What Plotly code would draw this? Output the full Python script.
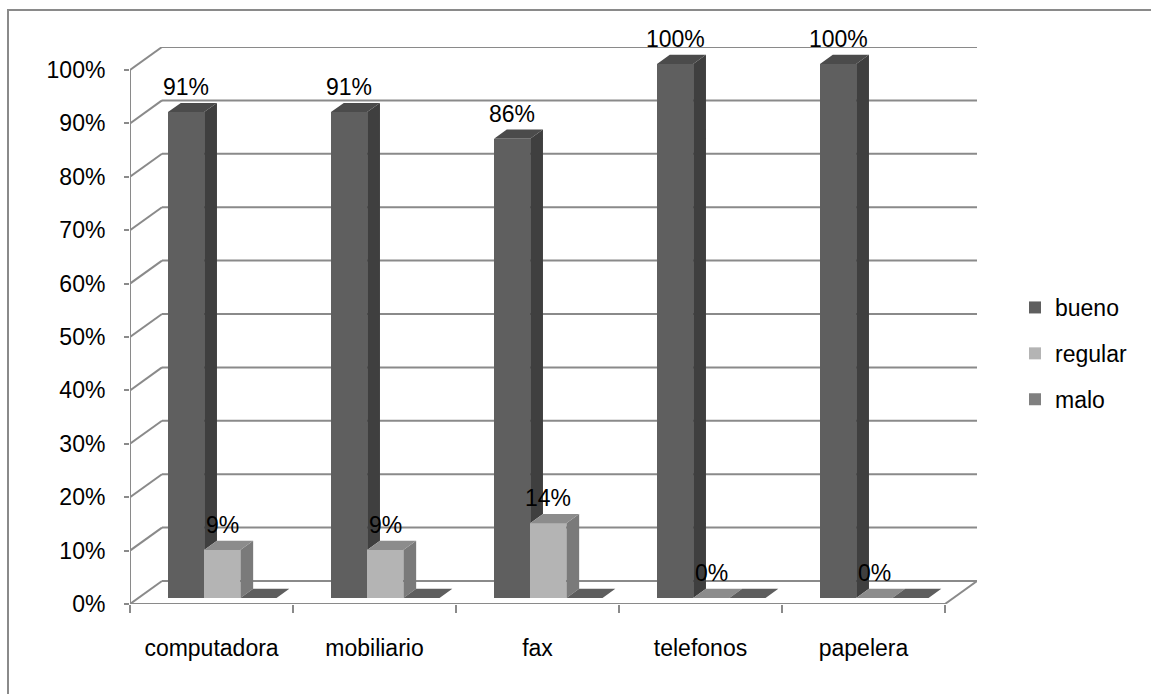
import plotly.graph_objects as go

# ---------------- data ----------------
categories = ["computadora", "mobiliario", "fax", "telefonos", "papelera"]
bueno = [91, 91, 86, 100, 100]
regular = [9, 9, 14, 0, 0]
malo = [0, 0, 0, 0, 0]
series_names = ["bueno", "regular", "malo"]
y_ticks = [0, 10, 20, 30, 40, 50, 60, 70, 80, 90, 100]
show_labels = [True, True, False]

# ---------------- style / geometry ----------------
W, H = 1151, 694
PL, PR, PT, PB = 130, 977, 47, 604          # plot area in pixels
DX = 32 / 163                               # depth offset (category units)
DY = 23 / 5.34                              # depth offset (percent units)
BW = 0.222                                  # bar width (category units)
X0 = 0.182                                  # first bar start inside category
D0, DD = 0.26, 0.40                         # bar depth start / thickness (fraction of depth)
GRID = "#8a8a8a"
FONT = "Liberation Sans, Arial, sans-serif"
FS = 23

front_col = ["#5f5f5f", "#b4b4b4", "#808080"]
side_col = ["#3f3f3f", "#7a7a7a", "#5a5a5a"]
top_col = ["#4b4b4b", "#8c8c8c", "#5e5e5e"]

values = [bueno, regular, malo]
n = len(categories)
base = D0 * DY

fig = go.Figure()

# front faces (bars)
for k, name in enumerate(series_names):
    xs = [i + X0 + (k + 0.5) * BW + D0 * DX for i in range(n)]
    fig.add_trace(go.Bar(
        x=xs, y=values[k], base=[base] * n, width=BW, name=name,
        marker=dict(color=front_col[k], line=dict(width=0)),
        legendgroup=name, hoverinfo="skip",
    ))

# side and top faces
for k, name in enumerate(series_names):
    sx, sy, tx, ty = [], [], [], []
    for i in range(n):
        v = values[k][i]
        xl = i + X0 + k * BW + D0 * DX
        xr = xl + BW
        vb = v + base
        low = base + (values[k + 1][i] if k + 1 < len(values) else 0)
        ddx, ddy = DD * DX, DD * DY
        if vb > low:
            sx += [xr, xr, xr + ddx, xr + ddx, None]
            sy += [low, vb, vb + ddy, low + ddy, None]
        tx += [xl, xr, xr + ddx, xl + ddx, None]
        ty += [vb, vb, vb + ddy, vb + ddy, None]
    fig.add_trace(go.Scatter(x=sx, y=sy, mode="lines", fill="toself",
                             fillcolor=side_col[k], line=dict(width=0),
                             showlegend=False, hoverinfo="skip"))
    fig.add_trace(go.Scatter(x=tx, y=ty, mode="lines", fill="toself",
                             fillcolor=top_col[k], line=dict(width=0),
                             showlegend=False, hoverinfo="skip"))

# data labels
for k, name in enumerate(series_names):
    if not show_labels[k]:
        continue
    for i in range(n):
        v = values[k][i]
        fig.add_annotation(
            x=i + X0 + (k + 0.5) * BW + D0 * DX, y=v + base,
            text=f"{v}%", showarrow=False, yshift=25, yanchor="middle",
            font=dict(family=FONT, size=FS, color="#000000"))

# walls / floor / gridlines as shapes
shapes = []
line = dict(color=GRID, width=2)
for t in y_ticks:
    shapes.append(dict(type="line", xref="x", yref="y", x0=DX, y0=t + DY,
                       x1=n + DX, y1=t + DY, line=line, layer="below"))
    shapes.append(dict(type="line", xref="x", yref="y", x0=0, y0=t,
                       x1=DX, y1=t + DY, line=line, layer="below"))
shapes.append(dict(type="line", xref="x", yref="y", x0=0, y0=0, x1=0,
                   y1=y_ticks[-1], line=line, layer="below"))
shapes.append(dict(type="line", xref="x", yref="y", x0=0, y0=0, x1=n,
                   y1=0, line=line, layer="below"))
shapes.append(dict(type="line", xref="x", yref="y", x0=n, y0=0, x1=n + DX,
                   y1=DY, line=line, layer="below"))


def px2paper(px, py):
    return (px - PL) / (PR - PL), (PB - py) / (PB - PT)


bx0, by0 = px2paper(8, 10)
bx1, by1 = px2paper(1160, 705)
shapes.append(dict(type="rect", xref="paper", yref="paper", x0=bx0, y0=by1,
                   x1=bx1, y1=by0, line=dict(color=GRID, width=2),
                   fillcolor="rgba(0,0,0,0)", layer="below"))

lx, ly = px2paper(1015, 286)

fig.update_layout(
    width=W, height=H, autosize=False,
    margin=dict(l=PL, r=W - PR, t=PT, b=H - PB, pad=0),
    paper_bgcolor="white", plot_bgcolor="white",
    barmode="overlay", bargap=0,
    shapes=shapes,
    font=dict(family=FONT, size=FS, color="#000000"),
    showlegend=True,
    legend=dict(x=lx, y=ly, xanchor="left", yanchor="top",
                font=dict(family=FONT, size=FS),
                tracegroupgap=13, bgcolor="rgba(0,0,0,0)",
                itemclick=False, itemdoubleclick=False),
    xaxis=dict(range=[0, n + DX], showgrid=False, zeroline=False,
               showline=False, tickmode="array",
               tickvals=[i + 0.5 for i in range(n)], ticktext=categories,
               ticks="", ticklabelstandoff=28,
               minor=dict(tickmode="array", tickvals=list(range(n + 1)),
                          ticks="outside", ticklen=8, tickwidth=2,
                          tickcolor=GRID, showgrid=False),
               fixedrange=True),
    yaxis=dict(range=[0, 100 + DY], showgrid=False, zeroline=False,
               showline=False, tickmode="array", tickvals=y_ticks,
               ticktext=[f"{t}%" for t in y_ticks],
               ticks="outside", ticklen=5, tickwidth=2, tickcolor=GRID,
               ticklabelstandoff=14, fixedrange=True),
)

fig.write_html("out.html")
